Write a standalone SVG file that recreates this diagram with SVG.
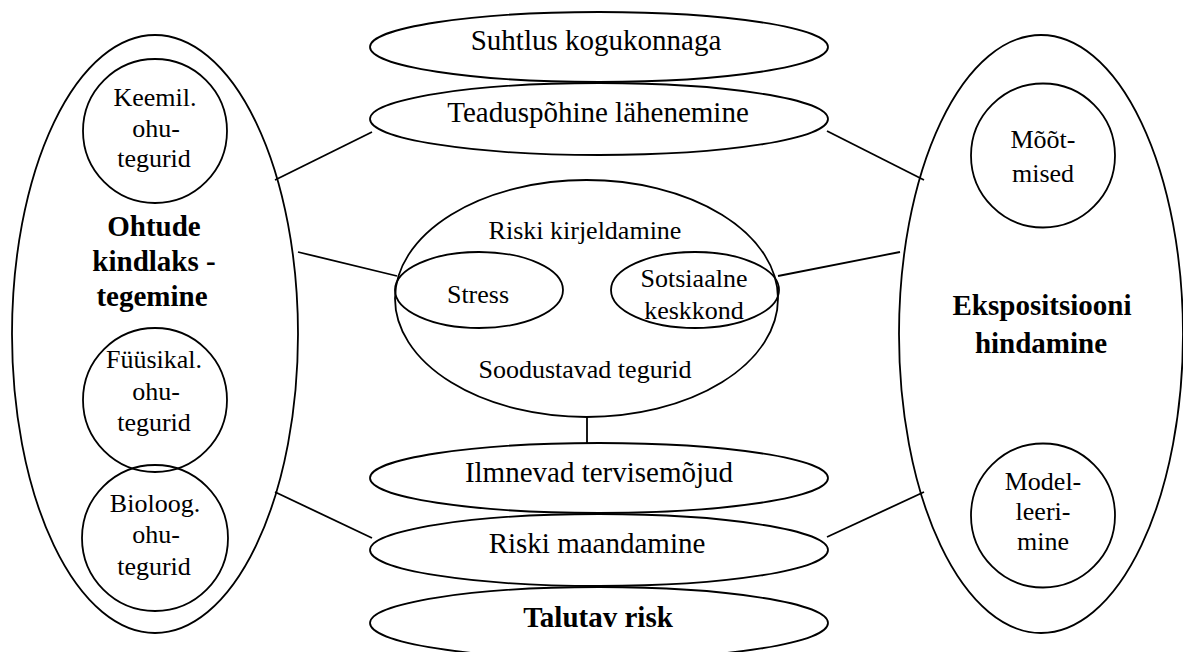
<svg xmlns="http://www.w3.org/2000/svg" width="1183" height="652" viewBox="0 0 1183 652">
<style>
.sh{fill:none;stroke:#000;stroke-width:1.8}
.ln{stroke:#000;stroke-width:1.8;fill:none}
text{font-family:"Liberation Serif","Times New Roman",serif;fill:#000;text-anchor:middle}
.t29{font-size:29px}
.t26{font-size:26px}
.b29{font-size:29px;font-weight:bold}
</style>
<rect width="1183" height="652" fill="#fff"/>
<g id="connectors">
<line class="ln" x1="275" y1="180" x2="372" y2="132"/>
<line class="ln" x1="298" y1="252" x2="397" y2="276"/>
<line class="ln" x1="275" y1="492" x2="372" y2="538"/>
<line class="ln" x1="827" y1="131" x2="924" y2="180"/>
<line class="ln" x1="778" y1="276" x2="900" y2="252"/>
<line class="ln" x1="827" y1="537" x2="924" y2="492"/>
<line class="ln" x1="587" y1="417" x2="587" y2="443"/>
</g>
<g id="ohtude">
<ellipse class="sh" cx="155" cy="334" rx="143" ry="299"/>
<text class="b29" x="154" y="236">Ohtude</text>
<text class="b29" x="154" y="271">kindlaks -</text>
<text class="b29" x="152" y="306">tegemine</text>
</g>
<g id="keemil">
<circle class="sh" cx="155" cy="131" r="72"/>
<text class="t26" x="155" y="106">Keemil.</text>
<text class="t26" x="156" y="137">ohu-</text>
<text class="t26" x="154" y="167">tegurid</text>
</g>
<g id="fuusikal">
<circle class="sh" cx="155" cy="400" r="72"/>
<text class="t26" x="154" y="368">Füüsikal.</text>
<text class="t26" x="156" y="400">ohu-</text>
<text class="t26" x="154" y="431">tegurid</text>
</g>
<g id="bioloog">
<circle class="sh" cx="155" cy="538" r="73"/>
<text class="t26" x="155" y="512">Bioloog.</text>
<text class="t26" x="156" y="543">ohu-</text>
<text class="t26" x="154" y="575">tegurid</text>
</g>
<g id="suhtlus">
<ellipse class="sh" cx="599" cy="47" rx="229" ry="35"/>
<text class="t29" x="596" y="50">Suhtlus kogukonnaga</text>
</g>
<g id="teadus">
<ellipse class="sh" cx="599" cy="119" rx="229" ry="36"/>
<text class="t29" x="598" y="122">Teaduspõhine lähenemine</text>
</g>
<g id="riski-kirjeldamine">
<ellipse class="sh" cx="586.5" cy="298.5" rx="191.5" ry="118.5"/>
<text class="t26" x="585" y="239">Riski kirjeldamine</text>
<text class="t26" x="585" y="378">Soodustavad tegurid</text>
</g>
<g id="stress">
<ellipse class="sh" cx="479" cy="290" rx="84" ry="38"/>
<text class="t26" x="478" y="303">Stress</text>
</g>
<g id="sotsiaalne">
<ellipse class="sh" cx="695" cy="290" rx="84" ry="38"/>
<text class="t26" x="694" y="287">Sotsiaalne</text>
<text class="t26" x="694" y="319">keskkond</text>
</g>
<g id="ilmnevad">
<ellipse class="sh" cx="599" cy="478" rx="229" ry="35"/>
<text class="t29" x="599" y="482">Ilmnevad tervisemõjud</text>
</g>
<g id="maandamine">
<ellipse class="sh" cx="599" cy="550" rx="229" ry="36"/>
<text class="t29" x="597" y="553">Riski maandamine</text>
</g>
<g id="talutav">
<ellipse class="sh" cx="599" cy="623" rx="229" ry="36"/>
<text class="b29" x="598" y="627">Talutav risk</text>
</g>
<g id="ekspositsioon">
<ellipse class="sh" cx="1041" cy="334" rx="142" ry="299"/>
<text class="b29" x="1042" y="315">Ekspositsiooni</text>
<text class="b29" x="1041" y="353">hindamine</text>
</g>
<g id="mootmised">
<circle class="sh" cx="1043" cy="155.5" r="72"/>
<text class="t26" x="1043" y="148">Mõõt-</text>
<text class="t26" x="1043" y="182">mised</text>
</g>
<g id="modelleerimine">
<circle class="sh" cx="1043" cy="515.5" r="72"/>
<text class="t26" x="1043" y="490">Model-</text>
<text class="t26" x="1043" y="520">leeri-</text>
<text class="t26" x="1043" y="550">mine</text>
</g>
</svg>
